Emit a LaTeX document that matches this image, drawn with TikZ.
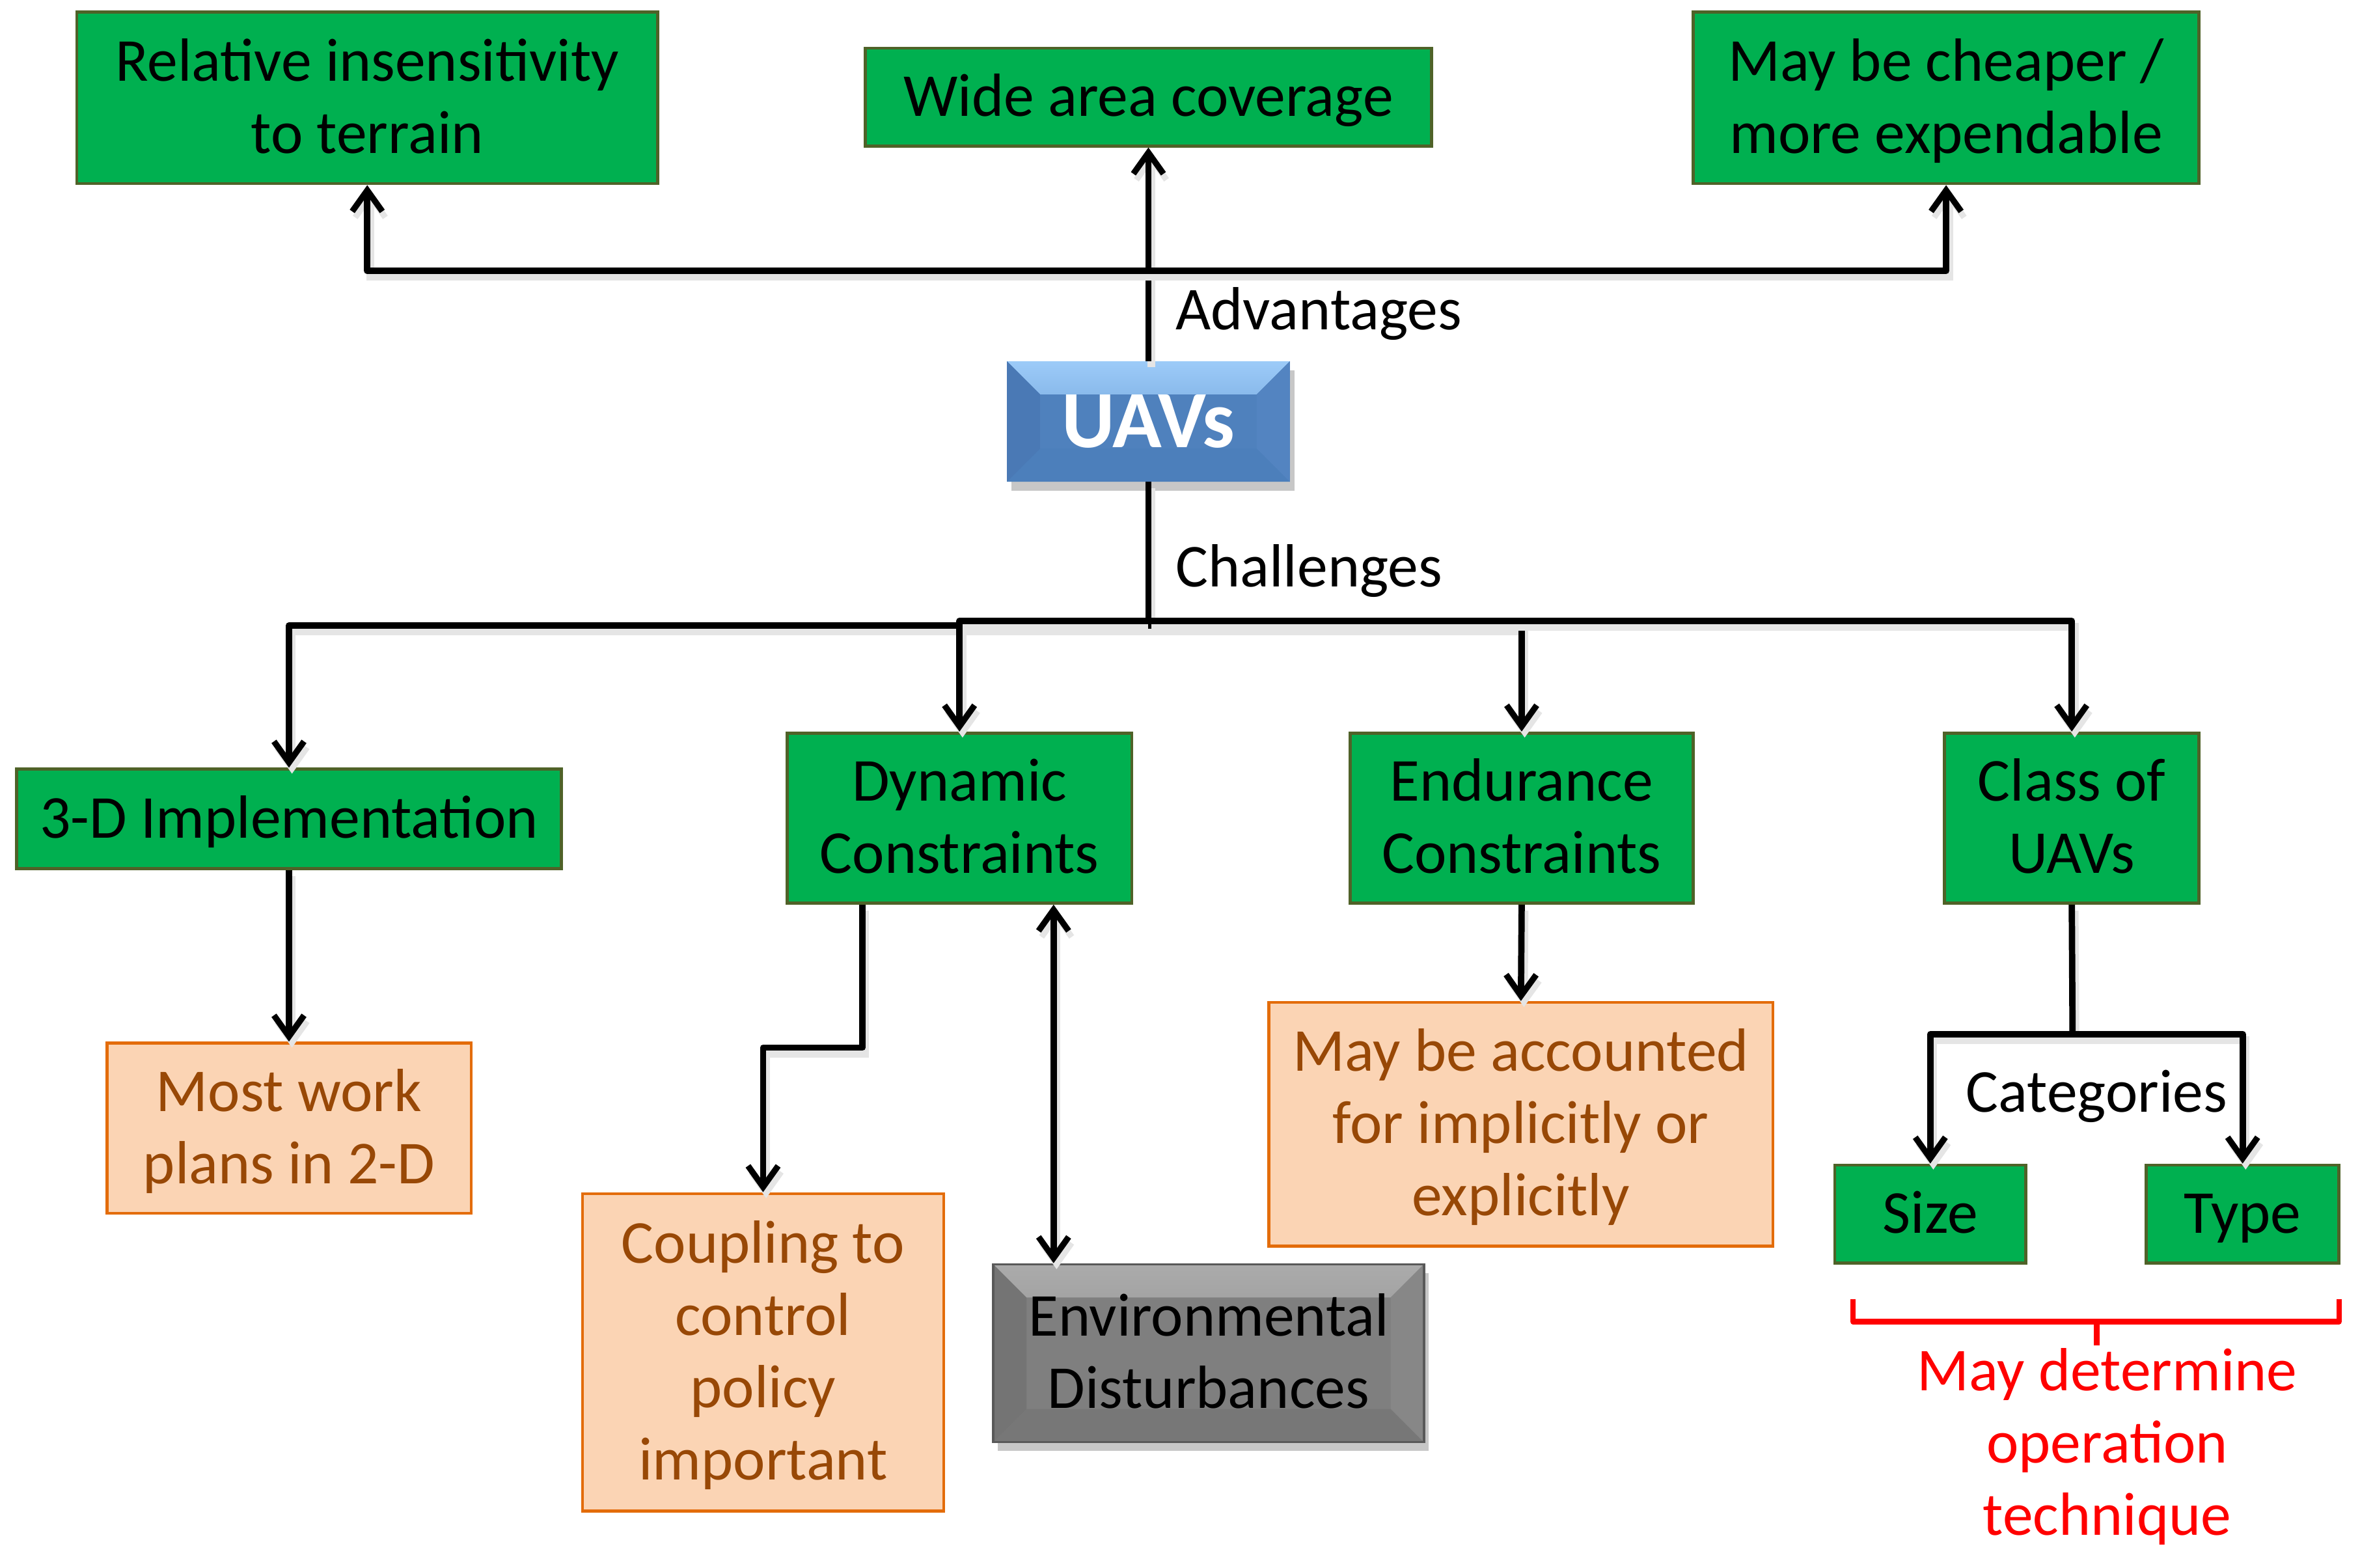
\documentclass[tikz,border=0pt]{standalone}
\usepackage{fontspec}
\setmainfont{Carlito}
\usetikzlibrary{arrows.meta,shadows,calc}
\definecolor{gfill}{HTML}{00B050}
\definecolor{gline}{HTML}{4F6228}
\definecolor{pfill}{HTML}{FBD4B4}
\definecolor{pline}{HTML}{E36C0A}
\definecolor{ptext}{HTML}{984806}
\definecolor{ublue}{HTML}{4F81BD}
\definecolor{ubluetop}{HTML}{9CCBF8}
\definecolor{ubluetopb}{HTML}{5A8DCA}
\definecolor{ublueleft}{HTML}{4A79B5}
\definecolor{ublueright}{HTML}{5384C1}
\definecolor{ubluebot}{HTML}{4C7FBB}
\definecolor{egray}{HTML}{7F7F7F}
\definecolor{egraytop}{HTML}{ABABAB}
\definecolor{egraytopb}{HTML}{838383}
\definecolor{egrayleft}{HTML}{747474}
\definecolor{egrayright}{HTML}{878787}
\definecolor{egraybot}{HTML}{777777}
\definecolor{redc}{HTML}{FF0000}
\newcommand\lnst{\rule[-11.3pt]{0pt}{48pt}}
\tikzset{
  txt/.style={font=\fontsize{40.5}{48}\selectfont, align=center, inner sep=0pt},
  gbox/.style={txt, fill=gfill, draw=gline, line width=2pt},
  pbox/.style={txt, fill=pfill, draw=pline, line width=2pt, text=ptext},
  lbl/.style={font=\fontsize{40.5}{48}\selectfont, inner sep=0pt},
  conn/.style={line width=4.2pt, line join=round,
    preaction={draw=black!10, line width=5pt, transform canvas={shift={(2pt,-4pt)}}}},
  tip/.tip={Straight Barb[length=14pt,width=20pt,line width=4pt]},
  arr/.style={conn, -tip},
  arrboth/.style={conn, tip-tip},
  bev/.style n args={6}{fill=#1, path picture={
    \fill[top color=#2, bottom color=#3] (path picture bounding box.north west) -- (path picture bounding box.north east)
      -- ([shift={(-22,22)}]path picture bounding box.north east) -- ([shift={(22,22)}]path picture bounding box.north west) -- cycle;
    \fill[#6] (path picture bounding box.south west) -- (path picture bounding box.south east)
      -- ([shift={(-22,-22)}]path picture bounding box.south east) -- ([shift={(22,-22)}]path picture bounding box.south west) -- cycle;
    \fill[#4] (path picture bounding box.north west) -- (path picture bounding box.south west)
      -- ([shift={(22,-22)}]path picture bounding box.south west) -- ([shift={(22,22)}]path picture bounding box.north west) -- cycle;
    \fill[#5] (path picture bounding box.north east) -- (path picture bounding box.south east)
      -- ([shift={(-22,-22)}]path picture bounding box.south east) -- ([shift={(-22,22)}]path picture bounding box.north east) -- cycle;
  }},
  shad/.style={drop shadow={shadow xshift=3pt, shadow yshift=-6pt, opacity=.22, fill=black}}
}
\begin{document}
\begin{tikzpicture}[x=1pt,y=-1pt]
\useasboundingbox (0,0) rectangle (1568,1041.3);
% top boxes
\node[gbox, minimum width=386pt, minimum height=114pt] (rel) at (244,65) {\lnst Relative insensitivity\\\lnst to terrain};
\node[gbox, minimum width=376pt, minimum height=65pt] (wide) at (763,64.5) {\lnst Wide area coverage};
\node[gbox, minimum width=336pt, minimum height=114pt] (cheap) at (1293,65) {\lnst May be cheaper /\\\lnst more expendable};
% central
\node[shad, bev={ublue}{ubluetop}{ubluetopb}{ublueleft}{ublueright}{ubluebot}, inner sep=0pt,
      minimum width=188pt, minimum height=80pt,
      text=white, font=\fontsize{54}{60}\selectfont\bfseries] (uavs) at (763,280) {UAVs};
% challenges
\node[gbox, minimum width=362pt, minimum height=66pt] (impl) at (192,544) {\lnst 3-D Implementation};
\node[gbox, minimum width=229pt, minimum height=113pt] (dyn) at (637.5,543.5) {\lnst Dynamic\\\lnst Constraints};
\node[gbox, minimum width=228pt, minimum height=113pt] (endu) at (1011,543.5) {\lnst Endurance\\\lnst Constraints};
\node[gbox, minimum width=169pt, minimum height=113pt] (cls) at (1376.5,543.5) {\lnst Class of\\\lnst UAVs};
% consequences
\node[pbox, minimum width=242pt, minimum height=113pt] (most) at (192,749.5) {\lnst Most work\\\lnst plans in 2-D};
\node[pbox, minimum width=240pt, minimum height=211pt] (coup) at (507,898.5) {\lnst Coupling to\\\lnst control\\\lnst policy\\\lnst important};
\node[shad, bev={egray}{egraytop}{egraytopb}{egrayleft}{egrayright}{egraybot}, draw=black!65, line width=1.6pt, txt,
      minimum width=286pt, minimum height=118pt] (env) at (803,899) {\lnst Environmental\\\lnst Disturbances};
\node[pbox, minimum width=335pt, minimum height=162pt] (acct) at (1010.5,747) {\lnst May be accounted\\\lnst for implicitly or\\\lnst explicitly};
\node[gbox, minimum width=127pt, minimum height=65pt] (size) at (1282.5,806.5) {\lnst Size};
\node[gbox, minimum width=128pt, minimum height=65pt] (type) at (1490,806.5) {\lnst Type};
\node[txt, text=redc] (oper) at (1400,959) {\lnst May determine\\\lnst operation\\\lnst technique};
% labels
\node[lbl, anchor=base west] (adv) at (781,219) {Advantages};
\node[lbl, anchor=base west] (chal) at (781,390) {Challenges};
\node[lbl, anchor=base] (cat) at (1393,739) {Categories};
% advantage connectors
\coordinate (hadv) at (763,180);
\draw[arr] (uavs.north) -- (wide.south);
\draw[arr] (uavs.north |- hadv) -| (rel.south);
\draw[arr] (uavs.north |- hadv) -| (cheap.south);
% challenge connectors
\coordinate (cL) at (763,415.5);
\coordinate (cR) at (763,412.5);
\draw[conn] (uavs.south) -- (cL);
\draw[arr] (cL) -| (impl.north);
\draw[arr] (cR) -| (dyn.north);
\draw[arr] (cL) -| (endu.north);
\draw[arr] (cR) -| (cls.north);
% lower connectors
\draw[arr] (impl.south) -- (most.north);
\coordinate (dk) at (573,696);
\draw[arr] (dyn.south -| dk) -- (dk) -| (coup.north);
\coordinate (dx) at (700,700);
\draw[arrboth] (env.north -| dx) -- (dyn.south -| dx);
\draw[arr] (endu.south) -- (acct.north);
\coordinate (ck) at (1377,687);
\draw[conn] (cls.south) -- (ck);
\draw[arr] (ck) -| (size.north);
\draw[arr] (ck) -| (type.north);
% brace
\coordinate (bl) at (1231,878);
\coordinate (br) at (1554,878);
\coordinate (bm) at (1393,878);
\draw[draw=redc, line width=3.6pt, line join=round] ([yshift=15pt]bl) -- (bl) -- (br) -- ([yshift=15pt]br);
\draw[draw=redc, line width=3.6pt] (bm) -- ([yshift=-16pt]bm);
\end{tikzpicture}
\end{document}
